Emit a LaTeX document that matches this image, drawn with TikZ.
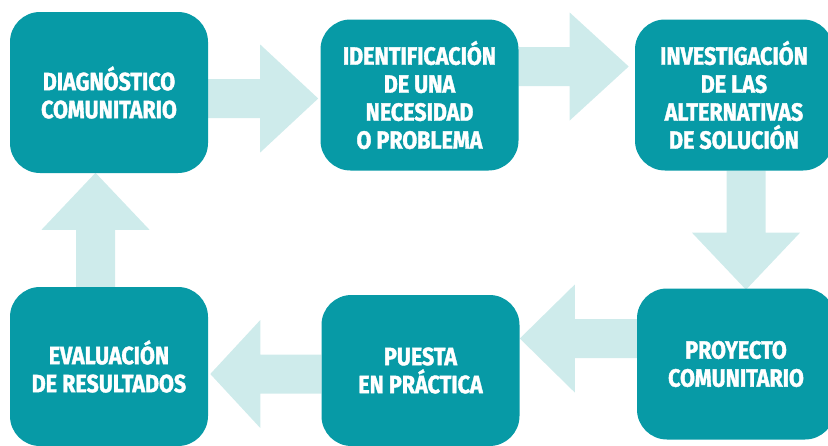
\documentclass[tikz,border=0pt]{standalone}
\usepackage{fontspec}
\newfontfamily\cajafont[FakeStretch=0.86,FakeBold=1.5]{Fira Sans}
\usepackage{tikz}
\usetikzlibrary{calc,backgrounds}

\definecolor{turquesa}{HTML}{079AA6}
\definecolor{turquesaclaro}{HTML}{CEEBEB}

\tikzset{
  caja/.style={fill=turquesa, rounded corners=30pt, text=white, align=center,
    font=\cajafont\bfseries\fontsize{25}{28}\selectfont,
    minimum width=198pt, minimum height=151pt, inner sep=0pt},
  flecha/.style={fill=turquesaclaro}
}

% big arrow: #1 start, #2 angle, #3 length, #4 shaft length
\newcommand{\flechagrande}[4]{%
  \fill[flecha, shift={#1}, rotate=#2]
    (0,-19.5) -- (#4,-19.5) -- (#4,-54) -- (#3,0) -- (#4,54) -- (#4,19.5) -- (0,19.5) -- cycle;}

\begin{document}
\begin{tikzpicture}[x=1pt,y=-1pt]
\useasboundingbox (0,0) rectangle (828,445);
\clip (0,0) rectangle (828,445);

% boxes
\node[caja, minimum height=161pt] (diag) at (109,92.5) {DIAGNÓSTICO\\COMUNITARIO};
\node[caja] (ident) at (419.5,95) {IDENTIFICACIÓN\\DE UNA\\NECESIDAD\\O PROBLEMA};
\node[caja] (inves) at (734,95) {INVESTIGACIÓN\\DE LAS\\ALTERNATIVAS\\DE SOLUCIÓN};
\node[caja] (proy) at (736,364) {PROYECTO\\COMUNITARIO};
\node[caja] (puesta) at (420.5,370.5) {PUESTA\\EN PRÁCTICA};
\node[caja, minimum height=159pt] (eval) at (109,366.5) {EVALUACIÓN\\DE RESULTADOS};

% arrows
\begin{scope}[on background layer]
\flechagrande{($(diag.east)+(0,6)$)}{0}{110}{52}
\flechagrande{($(ident.east)+(0,-28.5)$)}{0}{110}{51}
\flechagrande{($(inves.south)+(12,0)$)}{-90}{119}{62}
\flechagrande{($(proy.west)+(0,-25.5)$)}{180}{117}{62}
\flechagrande{($(puesta.west)+(0,3.5)$)}{180}{111}{61}
\flechagrande{($(eval.north)+(-13.5,0)$)}{90}{114}{57}
\end{scope}
\end{tikzpicture}
\end{document}
